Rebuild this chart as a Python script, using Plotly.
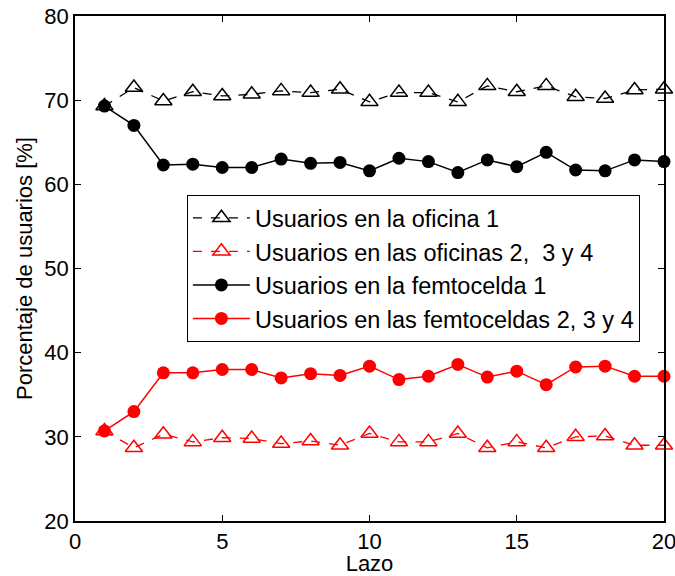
import plotly.graph_objects as go

lazo = list(range(1, 21))
oficina1 = [69.3, 71.5, 69.9, 71.0, 70.5, 70.7, 71.1, 70.9, 71.3, 69.8,
            70.9, 70.9, 69.8, 71.7, 71.0, 71.7, 70.4, 70.2, 71.2, 71.3]
oficinas234 = [30.7, 28.7, 30.3, 29.4, 29.9, 29.8, 29.2, 29.5, 29.0, 30.4,
               29.4, 29.4, 30.4, 28.7, 29.4, 28.7, 30.0, 30.1, 29.0, 29.0]
femto1 = [69.3, 67.0, 62.3, 62.4, 62.0, 62.0, 63.0, 62.5, 62.6, 61.6,
          63.1, 62.7, 61.4, 62.9, 62.1, 63.8, 61.7, 61.6, 62.9, 62.7]
femto234 = [30.7, 33.0, 37.6, 37.6, 38.0, 38.0, 37.0, 37.5, 37.3, 38.4,
            36.8, 37.2, 38.6, 37.1, 37.8, 36.2, 38.3, 38.4, 37.2, 37.2]

names = ["Usuarios en la oficina 1",
         "Usuarios en las oficinas 2,  3 y 4",
         "Usuarios en la femtocelda 1",
         "Usuarios en las femtoceldas 2, 3 y 4"]

fig = go.Figure()
fig.add_trace(go.Scatter(x=lazo, y=oficina1, name=names[0], mode="lines+markers",
                         cliponaxis=False,
                         line=dict(color="black", width=1.3, dash="dash"),
                         marker=dict(symbol="triangle-up-open", size=15, color="black",
                                     line=dict(width=1.5))))
fig.add_trace(go.Scatter(x=lazo, y=oficinas234, name=names[1], mode="lines+markers",
                         cliponaxis=False,
                         line=dict(color="red", width=1.3, dash="dash"),
                         marker=dict(symbol="triangle-up-open", size=15, color="red",
                                     line=dict(width=1.5))))
fig.add_trace(go.Scatter(x=lazo, y=femto1, name=names[2], mode="lines+markers",
                         cliponaxis=False,
                         line=dict(color="black", width=1.5),
                         marker=dict(symbol="circle", size=13, color="black")))
fig.add_trace(go.Scatter(x=lazo, y=femto234, name=names[3], mode="lines+markers",
                         cliponaxis=False,
                         line=dict(color="red", width=1.5),
                         marker=dict(symbol="circle", size=13, color="red")))

font_family = "Liberation Sans, Arial, Helvetica, sans-serif"
axis_common = dict(showline=True, linecolor="black", linewidth=1.5, mirror="ticks",
                   ticks="inside", ticklen=6, tickwidth=1, tickcolor="black",
                   showgrid=False, zeroline=False, automargin=False,
                   ticklabeloverflow="allow",
                   tickfont=dict(size=22, color="black", family=font_family))

fig.update_xaxes(range=[0, 20], tickvals=[0, 5, 10, 15, 20],
                 title=dict(text="Lazo", font=dict(size=22, color="black", family=font_family),
                            standoff=4),
                 **axis_common)
fig.update_yaxes(range=[20, 80], tickvals=[20, 30, 40, 50, 60, 70, 80],
                 title=dict(text="Porcentaje de usuarios [%]",
                            font=dict(size=22, color="black", family=font_family),
                            standoff=6),
                 **axis_common)

fig.update_layout(
    width=675, height=576,
    margin=dict(l=75, r=11, t=16, b=55),
    paper_bgcolor="white", plot_bgcolor="white",
    font=dict(family=font_family, color="black"),
    legend=dict(x=0.19, y=0.6455, xanchor="left", yanchor="top",
                bordercolor="black", borderwidth=1, bgcolor="white",
                font=dict(size=23.5, color="black", family=font_family),
                itemwidth=57, tracegroupgap=0),
    showlegend=True,
)

fig.write_html("out.html", config={"displayModeBar": False},
               post_script="document.body.style.margin='0';document.body.style.overflow='hidden';")
